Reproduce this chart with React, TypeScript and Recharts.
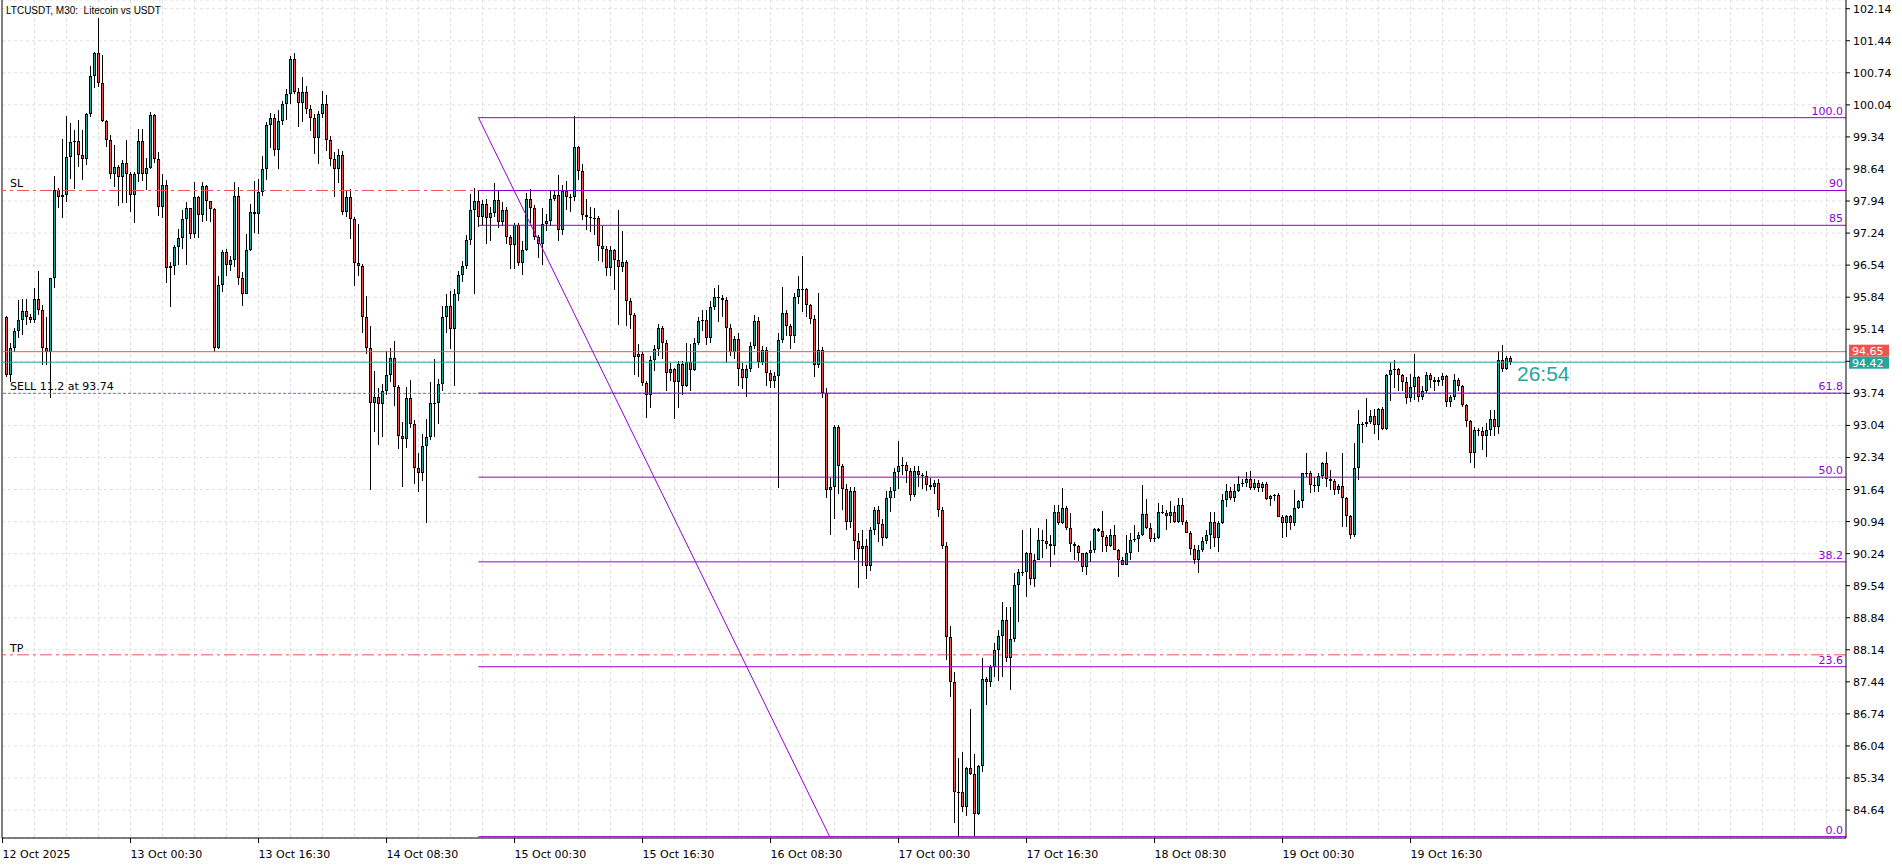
import React from 'react';
import {
  ComposedChart,
  Bar,
  XAxis,
  YAxis,
  CartesianGrid,
  ReferenceLine,
  ReferenceDot,
} from 'recharts';

// LTCUSDT M30 candles, 12 Oct 2025 -> 20 Oct 2025
// each M30 bar opens where the previous one closed
const firstOpen = 95.4;

const closes = [
  94.15, 94.74, 95.1, 95.35, 95.54, 95.4, 95.35, 95.79, 95.55, 94.74, // 0
  94.65, 96.25, 98.19, 98.02, 98.08, 98.9, 99.23, 99.25, 98.94, 98.85, // 10
  99.84, 100.67, 101.18, 100.51, 99.69, 99.28, 98.54, 98.69, 98.47, 98.78, // 20
  98.54, 98.08, 98.53, 99.25, 98.52, 98.67, 99.82, 98.85, 97.8, 98.3, // 30
  96.47, 96.52, 96.93, 97.14, 97.54, 97.78, 97.21, 98.02, 97.63, 98.26, // 40
  97.94, 97.76, 94.72, 96.1, 96.82, 96.55, 96.66, 98.05, 96.25, 95.92, // 50
  96.88, 97.69, 97.65, 98.13, 98.63, 99.6, 99.76, 99.05, 99.68, 100.05, // 60
  100.27, 101.05, 100.32, 100.09, 100.32, 99.96, 99.76, 99.31, 99.83, 100.05, // 70
  99.28, 98.85, 98.63, 98.94, 97.69, 98.03, 97.54, 96.58, 96.52, 95.4, // 80
  94.74, 93.52, 93.66, 93.5, 93.79, 94.14, 94.52, 93.87, 92.81, 92.75, // 90
  93.64, 93.08, 92.1, 91.99, 92.59, 92.79, 93.52, 93.53, 93.95, 95.4, // 100
  95.64, 95.14, 95.92, 96.32, 96.52, 97.09, 97.74, 97.94, 97.6, 97.87, // 110
  97.58, 97.67, 97.96, 97.48, 97.74, 97.16, 96.99, 97.41, 96.59, 96.87, // 120
  97.98, 97.79, 97.16, 97.01, 97.44, 97.5, 97.98, 98.07, 97.3, 98.16, // 130
  98.02, 98.03, 99.11, 98.59, 97.63, 97.6, 97.58, 97.56, 96.96, 96.9, // 140
  96.47, 96.87, 96.65, 96.49, 96.61, 95.76, 95.46, 94.54, 94.6, 93.97, // 150
  93.7, 94.47, 94.7, 95.16, 94.84, 94.19, 94.28, 93.99, 94.39, 93.9, // 160
  94.43, 94.26, 94.85, 95.32, 95.35, 94.94, 95.63, 95.85, 95.83, 95.78, // 170
  95.17, 94.65, 94.93, 94.27, 94.08, 94.27, 94.77, 95.33, 94.42, 94.69, // 180
  94.18, 94.01, 94.12, 94.9, 95.5, 95.22, 94.99, 95.84, 96.01, 96.02, // 190
  95.67, 95.37, 94.37, 94.69, 93.75, 91.63, 91.7, 93.01, 92.15, 91.65, // 200
  90.93, 91.6, 90.52, 90.35, 90.41, 89.98, 90.75, 91.2, 90.89, 90.59, // 210
  91.46, 91.6, 92.02, 92.16, 92.17, 92.04, 91.53, 92.05, 91.95, 91.93, // 220
  91.74, 91.7, 91.78, 91.19, 90.41, 88.43, 87.43, 85.04, 85.03, 84.71, // 230
  85.55, 85.42, 84.55, 85.6, 87.51, 87.44, 87.77, 88.13, 88.44, 88.79, // 240
  87.95, 88.37, 89.55, 89.83, 89.84, 90.26, 89.68, 90.11, 90.54, 90.52, // 250
  90.46, 90.41, 91.14, 90.9, 91.23, 90.79, 90.46, 90.41, 90.25, 89.95, // 260
  90.25, 90.32, 90.78, 90.73, 90.61, 90.41, 90.64, 90.33, 90.1, 90.0, // 270
  90.25, 90.54, 90.57, 90.65, 91.1, 90.79, 90.57, 90.59, 91.14, 91.12, // 280
  91.06, 91.14, 90.94, 91.3, 90.92, 90.7, 90.35, 90.1, 90.32, 90.51, // 290
  90.64, 90.92, 90.59, 90.9, 91.42, 91.6, 91.46, 91.6, 91.76, 91.79, // 300
  91.88, 91.68, 91.79, 91.68, 91.77, 91.44, 91.5, 91.52, 91.04, 90.9, // 310
  91.06, 90.91, 91.23, 91.39, 91.99, 92.0, 91.74, 91.72, 91.93, 92.23, // 320
  91.86, 91.83, 91.64, 91.71, 91.45, 91.07, 90.64, 92.1, 93.07, 93.08, // 330
  93.12, 93.25, 93.05, 93.39, 92.97, 94.14, 94.26, 94.27, 94.14, 93.98, // 340
  93.63, 93.88, 94.1, 93.66, 93.79, 94.14, 94.04, 93.98, 94.04, 94.12, // 350
  93.55, 93.65, 94.03, 93.9, 93.48, 93.14, 92.44, 92.95, 92.92, 92.81, // 360
  92.94, 93.19, 93.0, 94.46, 94.28, 94.52, 94.42, // 370
];

const highs = [
  95.42, 94.83, 95.16, 95.78, 95.81, 95.81, 95.48, 96.03, 96.41, 95.67,
  95.41, 96.25, 98.48, 98.23, 99.3, 99.79, 99.65, 99.49, 99.7, 99.49,
  99.87, 100.88, 101.2, 101.93, 101.13, 99.72, 99.38, 99.17, 98.72, 98.83,
  99.28, 98.58, 98.58, 99.52, 99.52, 98.89, 99.89, 99.85, 99.01, 98.53,
  98.4, 96.61, 96.98, 97.34, 97.74, 97.91, 97.78, 98.35, 98.05, 98.36,
  98.3, 97.95, 97.78, 96.3, 96.87, 96.9, 96.75, 98.35, 98.25, 96.4,
  97.21, 97.87, 98.37, 98.43, 98.92, 99.66, 99.87, 99.84, 99.93, 100.12,
  100.38, 101.11, 101.18, 100.4, 100.65, 100.45, 100.03, 99.85, 99.9, 100.35,
  100.26, 99.35, 99.0, 99.07, 99.04, 98.18, 98.21, 97.6, 97.44, 96.56,
  95.86, 95.2, 94.22, 93.85, 93.95, 94.66, 94.74, 94.88, 93.93, 93.11,
  93.87, 94.03, 93.16, 92.44, 92.86, 93.18, 93.99, 94.48, 94.05, 95.64,
  95.92, 95.97, 96.02, 96.42, 96.62, 97.19, 98.1, 98.23, 98.19, 97.96,
  97.98, 97.8, 98.33, 98.19, 97.92, 97.81, 97.2, 97.45, 97.45, 97.07,
  98.12, 98.21, 97.85, 97.2, 97.78, 97.65, 98.16, 98.18, 98.51, 98.3,
  98.38, 98.1, 99.8, 99.15, 98.75, 97.99, 97.8, 97.78, 97.61, 97.4,
  96.95, 96.95, 96.9, 97.74, 97.28, 96.65, 95.83, 95.5, 94.82, 94.65,
  94.0, 94.55, 94.8, 95.25, 95.2, 94.9, 94.4, 94.3, 94.45, 94.45,
  94.85, 94.82, 94.95, 95.4, 95.57, 95.55, 95.76, 96.03, 96.1, 95.88,
  95.85, 95.25, 95.0, 95.05, 94.4, 94.35, 94.87, 95.45, 95.4, 94.78,
  94.75, 94.25, 94.2, 95.05, 96.07, 95.55, 95.25, 95.93, 96.3, 96.73,
  96.05, 95.7, 95.45, 95.93, 94.75, 93.85, 91.9, 93.04, 93.05, 92.2,
  91.75, 91.7, 91.7, 90.7, 90.75, 90.55, 90.83, 91.25, 91.27, 91.0,
  91.6, 91.7, 92.1, 92.71, 92.35, 92.25, 92.1, 92.15, 92.15, 92.0,
  92.05, 91.9, 91.85, 91.88, 91.25, 90.5, 88.66, 87.65, 85.77, 85.9,
  85.58, 86.84, 85.86, 85.62, 87.97, 87.55, 87.81, 88.28, 88.57, 89.18,
  89.08, 89.08, 89.82, 89.9, 90.75, 90.28, 90.81, 90.23, 90.81, 90.75,
  90.99, 90.65, 91.3, 91.3, 91.68, 91.28, 91.12, 90.5, 90.43, 90.26,
  90.28, 90.52, 90.79, 90.81, 91.17, 90.65, 90.78, 90.86, 90.35, 90.16,
  90.65, 90.68, 90.86, 90.72, 91.74, 91.43, 90.9, 90.68, 91.34, 91.31,
  91.2, 91.39, 91.28, 91.45, 91.45, 90.97, 90.73, 90.42, 90.42, 90.61,
  90.75, 91.15, 91.15, 90.95, 91.55, 91.76, 91.7, 91.77, 91.94, 91.86,
  92.03, 92.04, 91.86, 91.85, 91.81, 91.81, 91.52, 91.54, 91.56, 91.08,
  91.08, 91.08, 91.64, 91.41, 92.01, 92.43, 92.05, 91.92, 91.99, 92.25,
  92.46, 92.06, 91.86, 91.77, 92.43, 91.48, 91.08, 92.65, 93.37, 93.12,
  93.63, 93.37, 93.39, 93.41, 93.45, 94.17, 94.4, 94.46, 94.3, 94.17,
  94.1, 94.17, 94.61, 94.12, 93.9, 94.2, 94.18, 94.1, 94.1, 94.18,
  94.15, 93.7, 94.16, 94.08, 93.92, 93.5, 93.16, 93.0, 92.99, 93.0,
  93.1, 93.37, 93.37, 94.67, 94.79, 94.56, 94.55,
];

const lows = [
  94.1, 93.99, 94.65, 94.94, 95.01, 95.23, 95.27, 95.27, 95.45, 94.36,
  94.36, 93.63, 96.03, 97.78, 97.56, 97.91, 98.43, 98.21, 98.69, 98.39,
  98.72, 99.78, 100.4, 100.43, 99.67, 99.12, 98.43, 98.25, 97.84, 97.9,
  97.9, 97.7, 97.47, 98.36, 98.37, 98.18, 98.64, 98.76, 97.61, 97.56,
  96.14, 95.63, 96.32, 96.54, 96.9, 96.54, 97.1, 97.13, 97.14, 97.49,
  97.5, 97.49, 94.65, 94.7, 95.95, 96.3, 96.42, 96.5, 96.1, 95.65,
  95.9, 96.85, 97.24, 97.22, 98.05, 98.4, 99.1, 98.93, 98.63, 99.6,
  99.72, 100.05, 100.27, 99.56, 99.67, 99.83, 99.47, 98.97, 98.75, 99.75,
  99.03, 98.71, 98.03, 98.33, 97.64, 97.6, 97.12, 96.09, 96.31, 95.05,
  94.61, 91.63, 92.9, 92.62, 92.78, 93.7, 93.98, 93.47, 92.52, 91.7,
  92.55, 92.98, 91.75, 91.58, 91.82, 90.91, 92.72, 92.79, 93.08, 93.8,
  95.05, 94.7, 93.9, 95.75, 96.17, 96.45, 96.98, 95.92, 97.38, 97.4,
  97.0, 97.07, 97.6, 97.35, 97.4, 97.0, 96.46, 96.46, 96.52, 96.33,
  96.84, 97.45, 97.09, 96.7, 96.54, 97.29, 97.4, 97.95, 97.06, 97.2,
  97.75, 97.7, 97.95, 98.4, 97.53, 97.3, 97.27, 97.2, 96.62, 96.6,
  96.3, 96.31, 96.0, 95.23, 96.4, 95.2, 95.14, 94.14, 94.1, 93.9,
  93.21, 93.42, 94.22, 94.55, 94.49, 93.8, 94.0, 93.19, 93.42, 93.7,
  93.88, 93.8, 94.22, 94.8, 95.1, 94.8, 94.85, 95.55, 95.3, 95.4,
  94.4, 94.55, 94.5, 93.9, 93.84, 93.65, 94.2, 94.7, 94.3, 94.35,
  93.9, 93.85, 93.85, 91.68, 94.85, 95.0, 94.7, 94.85, 95.7, 95.52,
  95.4, 95.25, 94.1, 94.3, 93.63, 91.45, 90.65, 91.0, 91.55, 91.2,
  90.75, 90.8, 90.1, 89.48, 89.98, 89.68, 89.85, 90.65, 90.5, 90.4,
  90.55, 91.15, 91.45, 91.65, 91.95, 91.78, 91.4, 91.48, 91.7, 91.65,
  91.6, 91.62, 91.55, 91.05, 90.35, 87.92, 87.11, 84.35, 84.06, 84.6,
  84.51, 85.4, 84.07, 84.53, 85.48, 86.93, 87.33, 87.55, 87.46, 87.55,
  87.88, 87.26, 88.32, 88.74, 89.75, 89.3, 89.55, 89.52, 90.1, 90.15,
  90.34, 89.95, 90.21, 90.86, 90.89, 90.75, 90.28, 90.1, 90.08, 89.84,
  89.77, 90.06, 90.26, 90.72, 90.28, 90.27, 90.39, 90.32, 89.74, 89.99,
  89.99, 90.1, 90.5, 90.28, 90.62, 90.77, 90.5, 90.49, 90.56, 91.1,
  90.75, 90.9, 90.9, 90.91, 90.86, 90.68, 90.21, 90.01, 89.82, 90.28,
  90.46, 90.35, 90.39, 90.28, 90.88, 91.26, 91.41, 91.36, 91.58, 91.7,
  91.7, 91.64, 91.64, 91.59, 91.59, 91.42, 91.28, 91.4, 91.03, 90.59,
  90.6, 90.75, 90.84, 91.22, 91.23, 91.92, 91.57, 91.59, 91.59, 91.88,
  91.7, 91.63, 91.52, 91.54, 90.83, 90.83, 90.55, 90.61, 91.85, 92.66,
  93.01, 93.08, 92.86, 92.72, 92.94, 92.95, 93.57, 93.85, 93.8, 93.8,
  93.5, 93.56, 93.59, 93.55, 93.6, 93.75, 93.85, 93.8, 93.9, 93.9,
  93.45, 93.45, 93.6, 93.8, 93.45, 93.0, 92.22, 92.1, 92.8, 92.5,
  92.35, 92.8, 92.8, 92.85, 94.2, 94.25, 94.35,
];

// time axis: bar index of each label (first label sits on the bar before the first full one)
const xTickIdx = [-1, 31, 63, 95, 127, 159, 191, 223, 255, 287, 319, 351];
const xTickLabels = [
  '12 Oct 2025', '13 Oct 00:30', '13 Oct 16:30', '14 Oct 08:30', '15 Oct 00:30', '15 Oct 16:30',
  '16 Oct 08:30', '17 Oct 00:30', '17 Oct 16:30', '18 Oct 08:30', '19 Oct 00:30', '19 Oct 16:30',
];

const yTicks = [
  84.64, 85.34, 86.04, 86.74, 87.44, 88.14, 88.84, 89.54, 90.24, 90.94, 91.64, 92.34, 93.04,
  93.74, 94.44, 95.14, 95.84, 96.54, 97.24, 97.94, 98.64, 99.34, 100.04, 100.74, 101.44, 102.14,
];

// trade levels
const askPrice = 94.65;
const bidPrice = 94.42;
const slPrice = 98.17;
const tpPrice = 88.03;
const sellPrice = 93.74;
const sellText = 'SELL 11.2 at 93.74';
const timerText = '26:54';

// fibonacci retracement (drawn from the 99.76 high down to the 84.06 low)
const fibLabels = ['0.0', '23.6', '38.2', '50.0', '61.8', '85', '90', '100.0'];
const fibPrices = [84.06, 87.77, 90.06, 91.91, 93.745, 97.41, 98.17, 99.76];
const fibStartIdx = 118;
const fibEndIdx = 205.8;

const X_MIN = -1.125;
const X_MAX = 459.875;
const Y_MIN = 84.03;
const Y_MAX = 102.33;

const FONT = '"DejaVu Sans", sans-serif';
const BULL = '#26a69a';
const BEAR = '#ef5350';
const FIB = '#9400d3';

const opens = closes.map((_, i) => (i === 0 ? firstOpen : closes[i - 1]));
const data = closes.map((c, i) => ({
  i,
  o: opens[i],
  h: highs[i],
  l: lows[i],
  c,
  range: [lows[i], highs[i]],
}));

const gridIdx: number[] = [];
for (let v = 7; v < X_MAX; v += 8) gridIdx.push(v);

function Candle(props: any) {
  const { x, y, width, height, payload } = props;
  if (!payload || !Number.isFinite(y) || !Number.isFinite(height)) return null;
  const { o, h, l, c } = payload;
  const k = h > l ? height / (h - l) : 0;
  const cx = Math.floor(x + width / 2) + 0.5;
  const t = Math.round(y + (h - Math.max(o, c)) * k);
  const b = Math.round(y + (h - Math.min(o, c)) * k);
  const fill = c >= o ? BULL : BEAR;
  return (
    <g>
      <line x1={cx} x2={cx} y1={Math.round(y)} y2={Math.round(y + height)} stroke="#000" strokeWidth={1} />
      {b - t >= 2 ? (
        <rect x={cx - 1} y={t + 0.5} width={2} height={b - t - 1} fill={fill} stroke="#000" strokeWidth={1} />
      ) : (
        <line x1={cx - 1.5} x2={cx + 1.5} y1={t + 0.5} y2={t + 0.5} stroke="#000" strokeWidth={1} />
      )}
    </g>
  );
}

function XTick(props: any) {
  const { x, y, payload } = props;
  const k = xTickIdx.indexOf(payload.value);
  return (
    <text x={x} y={y + 13} textAnchor="start" fontFamily={FONT} fontSize={11} fill="#000">
      {k >= 0 ? xTickLabels[k] : ''}
    </text>
  );
}

function YTick(props: any) {
  const { x, y, payload } = props;
  const v = Number(payload.value);
  // the terminal hides axis prices that sit under the bid/ask tags
  if (Math.abs(v - bidPrice) < 0.2 || Math.abs(v - askPrice) < 0.2) return null;
  return (
    <text x={x} y={y + 4} textAnchor="start" fontFamily={FONT} fontSize={11} fill="#000">
      {v.toFixed(2)}
    </text>
  );
}

const leftTag = (text: string) => (p: any) => {
  const vb = p.viewBox || {};
  return (
    <text x={(vb.x || 0) + 8} y={(vb.y || 0) - 3} fontFamily={FONT} fontSize={11} fill="#000">
      {text}
    </text>
  );
};

const fibTag = (text: string) => (p: any) => {
  const vb = p.viewBox || {};
  return (
    <text
      x={(vb.x || 0) + (vb.width || 0) - 3}
      y={(vb.y || 0) - 3}
      textAnchor="end"
      fontFamily={FONT}
      fontSize={11}
      fill={FIB}
    >
      {text}
    </text>
  );
};

const priceTag = (value: number, bg: string, shift: number) => (p: any) => {
  const vb = p.viewBox || {};
  const left = (vb.x || 0) + (vb.width || 0) + 3;
  const top = (vb.y || 0) - shift;
  return (
    <g>
      <rect x={left} y={top} width={40} height={12} fill={bg} />
      <text x={left + 3} y={top + 10} fontFamily={FONT} fontSize={11} fill="#fff">
        {value.toFixed(2)}
      </text>
    </g>
  );
};

const timerTag = (p: any) => {
  const vb = p.viewBox || {};
  return (
    <text
      x={(vb.x || 0) - 0.5}
      y={(vb.y || 0) + 20}
      fontFamily='"Liberation Sans", Arial, sans-serif'
      fontSize={21}
      fill={BULL}
    >
      {timerText}
    </text>
  );
};

export default function App() {
  return (
    <div style={{ position: 'absolute', left: 0, top: 0, width: 1902, height: 867, background: '#fff' }}>
      <ComposedChart
        width={1902}
        height={867}
        data={data}
        margin={{ top: 0, right: 0, bottom: 0, left: 2 }}
      >
        <CartesianGrid stroke="#e0e0e0" strokeDasharray="3 3" verticalValues={gridIdx} />
        <XAxis
          dataKey="i"
          type="number"
          domain={[X_MIN, X_MAX]}
          allowDataOverflow
          ticks={xTickIdx}
          interval={0}
          height={29}
          tickSize={5}
          tickMargin={2}
          axisLine={{ stroke: '#000' }}
          tickLine={{ stroke: '#000' }}
          tick={<XTick />}
        />
        <YAxis
          orientation="right"
          type="number"
          domain={[Y_MIN, Y_MAX]}
          allowDataOverflow
          ticks={yTicks}
          interval={0}
          width={56}
          tickSize={4}
          tickMargin={3}
          axisLine={{ stroke: '#000' }}
          tickLine={{ stroke: '#000' }}
          tick={<YTick />}
        />
        <ReferenceLine x={X_MIN} stroke="#000" ifOverflow="visible" />

        <Bar dataKey="range" barSize={3} isAnimationActive={false} shape={(p: any) => <Candle {...p} />} />

        <ReferenceLine y={slPrice} stroke={BEAR} strokeDasharray="12 4 3 4" label={leftTag('SL')} />
        <ReferenceLine y={tpPrice} stroke={BEAR} strokeDasharray="12 4 3 4" label={leftTag('TP')} />
        <ReferenceLine y={sellPrice} stroke={BULL} strokeDasharray="3 2" label={leftTag(sellText)} />
        <ReferenceLine y={askPrice} stroke={BEAR} label={priceTag(askPrice, BEAR, 7)} />
        <ReferenceLine y={bidPrice} stroke={BULL} label={priceTag(bidPrice, BULL, 5.5)} />

        <ReferenceLine
          segment={[
            { x: fibStartIdx, y: fibPrices[fibPrices.length - 1] },
            { x: fibEndIdx, y: fibPrices[0] },
          ]}
          stroke={FIB}
          ifOverflow="visible"
        />
        {fibPrices.map((p, k) => (
          <ReferenceLine
            key={fibLabels[k]}
            segment={[
              { x: fibStartIdx, y: p },
              { x: X_MAX, y: p },
            ]}
            stroke={FIB}
            ifOverflow="visible"
            label={fibTag(fibLabels[k])}
          />
        ))}

        <ReferenceDot
          x={data.length + 1}
          y={bidPrice}
          r={1}
          fill="none"
          stroke="none"
          ifOverflow="visible"
          label={timerTag}
        />
      </ComposedChart>
      <div
        style={{
          position: 'absolute',
          left: 6,
          top: 5,
          fontFamily: '"Liberation Sans", Arial, sans-serif',
          fontSize: 10,
          lineHeight: '12px',
          color: '#000',
          whiteSpace: 'pre',
        }}
      >
        LTCUSDT, M30:  Litecoin vs USDT
      </div>
    </div>
  );
}
